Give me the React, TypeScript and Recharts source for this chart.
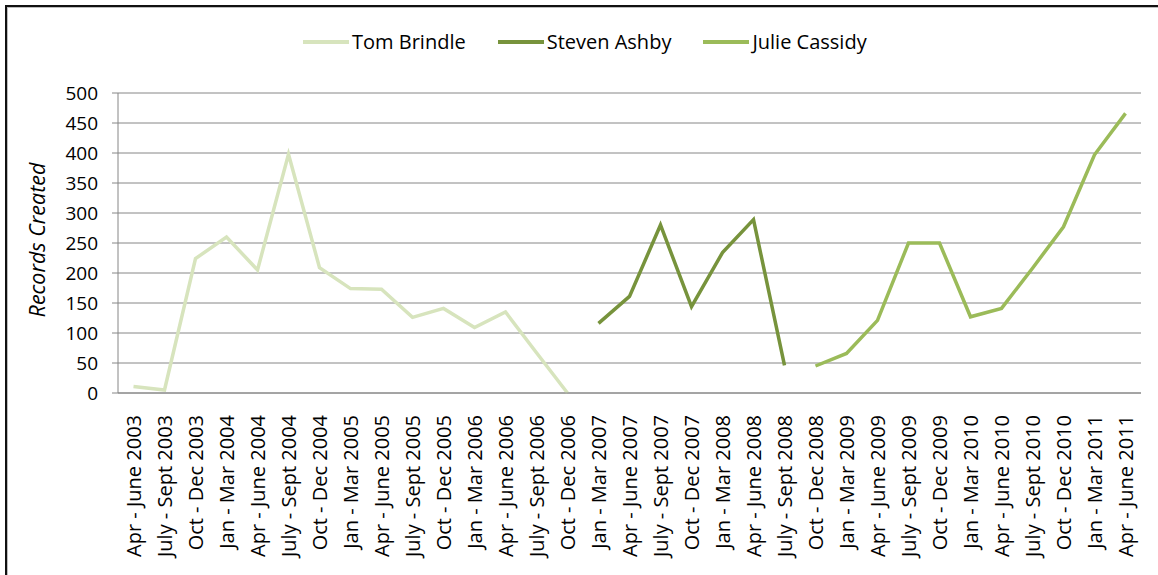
import {
  LineChart,
  Line,
  XAxis,
  YAxis,
  CartesianGrid,
  Legend,
} from "recharts";

const periods = [
  "Apr - June 2003", "July - Sept 2003", "Oct - Dec 2003",
  "Jan - Mar 2004", "Apr - June 2004", "July - Sept 2004", "Oct - Dec 2004",
  "Jan - Mar 2005", "Apr - June 2005", "July - Sept 2005", "Oct - Dec 2005",
  "Jan - Mar 2006", "Apr - June 2006", "July - Sept 2006", "Oct - Dec 2006",
  "Jan - Mar 2007", "Apr - June 2007", "July - Sept 2007", "Oct - Dec 2007",
  "Jan - Mar 2008", "Apr - June 2008", "July - Sept 2008", "Oct - Dec 2008",
  "Jan - Mar 2009", "Apr - June 2009", "July - Sept 2009", "Oct - Dec 2009",
  "Jan - Mar 2010", "Apr - June 2010", "July - Sept 2010", "Oct - Dec 2010",
  "Jan - Mar 2011", "Apr - June 2011",
];

// each person only covers part of the timeline; null = no line
const tomBrindle = [11, 5, 224, 260, 205, 398, 209, 174, 173, 126, 141, 109, 135, 67, 0];
const stevenAshby = [116, 161, 280, 144, 234, 289, 46];
const julieCassidy = [45, 66, 121, 250, 250, 127, 141, 208, 277, 397, 466];

const TOM_START = 0;
const STEVEN_START = 15;
const JULIE_START = 22;

const yTicks = [0, 50, 100, 150, 200, 250, 300, 350, 400, 450, 500];

const SERIES = [
  { key: "tom", name: "Tom Brindle", color: "#d7e4bd" },
  { key: "steven", name: "Steven Ashby", color: "#77933c" },
  { key: "julie", name: "Julie Cassidy", color: "#9bbb59" },
];

const FONT = "'Open Sans', 'Liberation Sans', sans-serif";

const pick = (arr: number[], start: number, i: number) =>
  i >= start && i < start + arr.length ? arr[i - start] : null;

const data = periods.map((period, i) => ({
  period,
  idx: i,
  tom: pick(tomBrindle, TOM_START, i),
  steven: pick(stevenAshby, STEVEN_START, i),
  julie: pick(julieCassidy, JULIE_START, i),
}));

const boundaryTicks = periods.map((_, i) => i).concat(periods.length);

const PeriodTick = ({ x, y, payload }: any) => (
  <text
    x={x}
    y={y}
    transform={`rotate(-90 ${x} ${y})`}
    textAnchor="end"
    dy="0.36em"
    fill="#000"
    fontSize={20}
    fontFamily={FONT}
  >
    {payload.value}
  </text>
);

// recharts 3 sorts legend items by name, keep the series order instead
const LegendContent = ({ payload }: any) => {
  const items = SERIES.map((s) =>
    (payload || []).find((p: any) => p.value === s.name)
  ).filter(Boolean);
  return (
    <div
      style={{
        display: "flex",
        alignItems: "center",
        fontFamily: FONT,
        fontSize: 20,
        lineHeight: "26px",
      }}
    >
      {items.map((entry: any) => (
        <div
          key={entry.value}
          style={{ display: "flex", alignItems: "center", marginRight: 32 }}
        >
          <div
            style={{
              width: 46,
              height: 4,
              backgroundColor: entry.color,
              marginRight: 3,
            }}
          />
          <span style={{ color: "#000" }}>{entry.value}</span>
        </div>
      ))}
    </div>
  );
};

export default function App() {
  return (
    <div
      style={{
        position: "absolute",
        left: 0,
        top: 0,
        width: 1158,
        height: 575,
        overflow: "hidden",
        background: "#fff",
      }}
    >
      <div
        style={{
          position: "absolute",
          left: 5,
          top: 5,
          width: 2000,
          height: 2000,
          border: "2px solid #111",
          boxShadow: "inset 1px 1px 0 #bdbdbd",
        }}
      />
      <div style={{ position: "absolute", left: 0, top: 0 }}>
        <LineChart
          width={1158}
          height={575}
          data={data}
          margin={{ top: 93, right: 17, bottom: 0, left: 0 }}
        >
          <CartesianGrid
            xAxisId="cat"
            vertical={false}
            stroke="#868686"
            strokeWidth={1}
          />
          <XAxis
            xAxisId="bounds"
            dataKey="idx"
            type="number"
            domain={[0, periods.length]}
            ticks={boundaryTicks}
            tick={false}
            tickSize={7}
            height={1}
            stroke="#868686"
            allowDataOverflow
          />
          <XAxis
            xAxisId="cat"
            dataKey="period"
            scale="band"
            interval={0}
            axisLine={false}
            tickLine={false}
            tick={<PeriodTick />}
            tickMargin={15}
            height={181}
          />
          <YAxis
            domain={[0, 500]}
            ticks={yTicks}
            width={118}
            tickSize={6}
            tickMargin={14}
            stroke="#868686"
            tick={{ fill: "#000", fontSize: 19, fontFamily: FONT }}
            label={{
              content: () => (
                <text
                  x={45}
                  y={240}
                  transform="rotate(-90 45 240)"
                  textAnchor="middle"
                  fontSize={21.5}
                  fontStyle="italic"
                  fontFamily={FONT}
                  fill="#000"
                >
                  Records Created
                </text>
              ),
            }}
          />
          <Legend
            verticalAlign="top"
            content={<LegendContent />}
            wrapperStyle={{
              position: "absolute",
              top: 29,
              left: 303,
              width: 700,
              height: 0,
              overflow: "visible",
            }}
          />
          {SERIES.map((s) => (
            <Line
              key={s.key}
              xAxisId="cat"
              dataKey={s.key}
              name={s.name}
              stroke={s.color}
              strokeWidth={3.5}
              dot={false}
              isAnimationActive={false}
            />
          ))}
        </LineChart>
      </div>
    </div>
  );
}
